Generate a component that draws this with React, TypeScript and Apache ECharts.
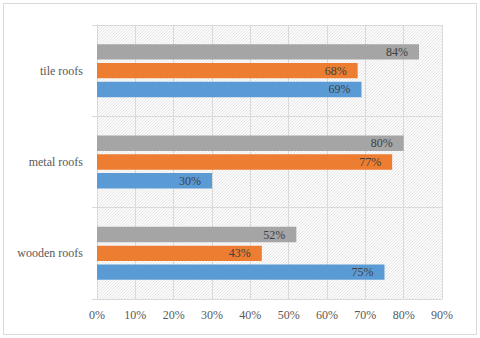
import React, { useEffect, useRef } from "react";
import * as echarts from "echarts";

const categories = ["wooden roofs", "metal roofs", "tile roofs"];
const blueValues = [75, 30, 69];
const orangeValues = [43, 77, 68];
const grayValues = [52, 80, 84];
const xTicks = [0, 10, 20, 30, 40, 50, 60, 70, 80, 90];

function makePattern(): HTMLCanvasElement {
  const n = 3;
  const c = document.createElement("canvas");
  c.width = n;
  c.height = n;
  const ctx = c.getContext("2d")!;
  ctx.fillStyle = "#fbfbfb";
  ctx.fillRect(0, 0, n, n);
  ctx.fillStyle = "#e6e6e6";
  for (let i = 0; i < n; i++) {
    ctx.fillRect(i, n - 1 - i, 1, 1);
  }
  return c;
}

export default function App() {
  const ref = useRef<HTMLDivElement>(null);
  useEffect(() => {
    if (!ref.current) return;
    const chart = echarts.init(ref.current, undefined, { renderer: "svg" });
    const font = "Liberation Serif";
    const label = {
      show: true,
      position: "insideRight",
      distance: 11,
      formatter: "{c}%",
      color: "#404040",
      fontFamily: font,
      fontSize: 12,
    };
    const mk = (name: string, data: number[], color: string) => ({
      name,
      type: "bar",
      data,
      barGap: "22%",
      barCategoryGap: "42%",
      itemStyle: { color },
      label,
    });
    chart.setOption({
      animation: false,
      backgroundColor: "#ffffff",
      textStyle: { fontFamily: font },
      graphic: [
        {
          type: "rect",
          shape: { x: 3.5, y: 3.5, width: 473, height: 331 },
          style: { fill: "none", stroke: "#d9d9d9", lineWidth: 1 },
          silent: true,
        },
      ],
      grid: {
        left: 97,
        right: 38,
        top: 25,
        bottom: 39,
        show: true,
        borderWidth: 0,
        backgroundColor: { image: makePattern(), repeat: "repeat" },
      },
      xAxis: {
        type: "value",
        min: 0,
        max: 90,
        interval: 10,
        axisLine: { show: true, lineStyle: { color: "#d9d9d9" } },
        axisTick: { show: false },
        splitLine: { show: true, lineStyle: { color: "#d9d9d9", width: 1 } },
        axisLabel: {
          formatter: (v: number) => (xTicks.includes(v) ? v + "%" : ""),
          color: "#595959",
          fontFamily: font,
          fontSize: 12,
          margin: 10,
        },
      },
      yAxis: {
        type: "category",
        data: categories,
        axisLine: { show: true, lineStyle: { color: "#d9d9d9" } },
        axisTick: { show: true, length: 5, lineStyle: { color: "#d9d9d9" } },
        splitLine: { show: true, lineStyle: { color: "#d9d9d9", width: 1 } },
        axisLabel: {
          color: "#595959",
          fontFamily: font,
          fontSize: 12,
          margin: 14,
        },
      },
      series: [
        mk("Series 3", grayValues, "#a5a5a5"),
        mk("Series 2", orangeValues, "#ed7d31"),
        mk("Series 1", blueValues, "#5b9bd5"),
      ],
    });
    return () => chart.dispose();
  }, []);
  return (
    <div
      ref={ref}
      style={{ position: "fixed", left: 0, top: 0, width: 480, height: 338 }}
    />
  );
}
